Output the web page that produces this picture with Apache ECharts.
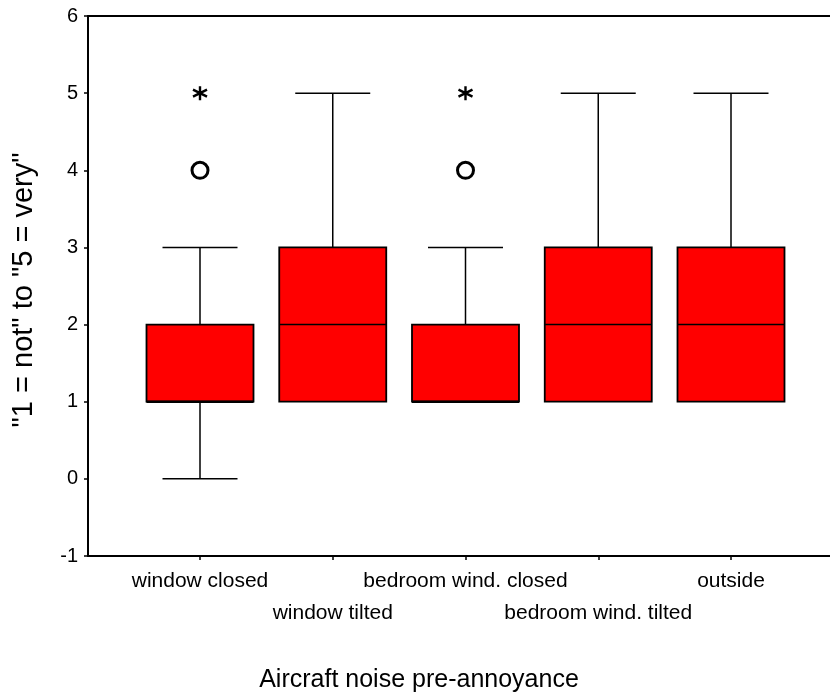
<!DOCTYPE html>
<html>
<head>
<meta charset="utf-8">
<script src="https://cdn.jsdelivr.net/npm/echarts@6/dist/echarts.min.js"></script>
<style>
  html, body { margin: 0; padding: 0; background: #fff; }
  #chart { width: 830px; height: 693px; }
</style>
</head>
<body>
<div id="chart"></div>
<script>
// ---- data ----
const categories = ['window closed', 'window tilted', 'bedroom wind. closed', 'bedroom wind. tilted', 'outside'];
const whiskerLow  = [0, 1, 1, 1, 1];
const q1          = [1, 1, 1, 1, 1];
const median      = [1, 2, 1, 2, 2];
const q3          = [2, 3, 2, 3, 3];
const whiskerHigh = [3, 5, 3, 5, 5];
const outlierPoints = [[1, 4], [3, 4]];   // [category position, value] circles
const extremePoints = [[1, 5], [3, 5]];   // asterisks
const yTitle = '"1 = not" to "5 = very"';
const xTitle = 'Aircraft noise pre-annoyance';

// ---- layout helpers ----
const FONT = 'Liberation Sans, Arial, sans-serif';
const gridLeft = 88, chartW = 830;
const unitPx = 132.75;             // px per category step
const firstCenterPx = 200;
const xMin = 1 - (firstCenterPx - gridLeft) / unitPx;
const xMax = xMin + (chartW - gridLeft) / unitPx;
const catPos = categories.map((c, i) => i + 1);

const boxData = categories.map((c, i) => [catPos[i], whiskerLow[i], q1[i], median[i], q3[i], whiskerHigh[i]]);

const chart = echarts.init(document.getElementById('chart'), null, { renderer: 'canvas' });

const option = {
  backgroundColor: '#ffffff',
  animation: false,
  title: {
    text: xTitle,
    left: 419,
    top: 668,
    padding: 0,
    textAlign: 'center',
    textStyle: { fontFamily: FONT, fontSize: 25, fontWeight: 'normal', color: '#000' }
  },
  grid: {
    left: gridLeft, right: 0, top: 16, bottom: 137, show: false
  },
  xAxis: [{
    type: 'value',
    min: xMin, max: xMax,
    splitLine: { show: false },
    axisLine: { show: true, onZero: false, lineStyle: { color: '#000', width: 2 } },
    axisTick: { show: true, length: 4, lineStyle: { color: '#000', width: 1.5 }, customValues: catPos },
    axisLabel: {
      show: true,
      customValues: catPos,
      margin: 9,
      fontFamily: FONT, fontSize: 21, color: '#000', lineHeight: 32,
      formatter: function (v) {
        const i = Math.round(v) - 1;
        if (i < 0 || i >= categories.length) return '';
        return (i % 2 === 1 ? '\n' : '') + categories[i];
      }
    }
  }, {
    type: 'value',
    position: 'top',
    min: xMin, max: xMax,
    splitLine: { show: false },
    axisLine: { show: true, onZero: false, lineStyle: { color: '#000', width: 2 } },
    axisTick: { show: false },
    axisLabel: { show: false }
  }],
  yAxis: {
    type: 'value',
    min: -1, max: 6, interval: 1,
    splitLine: { show: false },
    axisLine: { show: true, onZero: false, lineStyle: { color: '#000', width: 2 } },
    axisTick: { show: true, length: 4, lineStyle: { color: '#000', width: 1.5 } },
    axisLabel: { margin: 10, fontFamily: FONT, fontSize: 20, color: '#000' },
    name: yTitle,
    nameLocation: 'middle',
    nameRotate: 90,
    nameGap: 50,
    nameTextStyle: { fontFamily: FONT, fontSize: 29, color: '#000', padding: [0, 8, 0, 0] }
  },
  series: [
    {
      type: 'custom',
      data: boxData,
      encode: { x: 0, y: [1, 2, 3, 4, 5] },
      renderItem: function (params, api) {
        const x = api.value(0);
        const pLow = api.coord([x, api.value(1)]);
        const pQ1 = api.coord([x, api.value(2)]);
        const pMed = api.coord([x, api.value(3)]);
        const pQ3 = api.coord([x, api.value(4)]);
        const pHigh = api.coord([x, api.value(5)]);
        const cx = pQ1[0];
        const half = 53.5, capHalf = 37.5;
        const line = { stroke: '#000', lineWidth: 1.5 };
        const children = [];
        if (pHigh[1] < pQ3[1]) {
          children.push({ type: 'line', shape: { x1: cx, y1: pQ3[1], x2: cx, y2: pHigh[1] }, style: line });
        }
        children.push({ type: 'line', shape: { x1: cx - capHalf, y1: pHigh[1], x2: cx + capHalf, y2: pHigh[1] }, style: line });
        if (pLow[1] > pQ1[1]) {
          children.push({ type: 'line', shape: { x1: cx, y1: pQ1[1], x2: cx, y2: pLow[1] }, style: line });
          children.push({ type: 'line', shape: { x1: cx - capHalf, y1: pLow[1], x2: cx + capHalf, y2: pLow[1] }, style: line });
        }
        children.push({
          type: 'rect',
          shape: { x: cx - half, y: pQ3[1], width: half * 2, height: pQ1[1] - pQ3[1] },
          style: { fill: '#ff0000', stroke: '#000', lineWidth: 1.8 }
        });
        const i = params.dataIndex;
        children.push({ type: 'line', shape: { x1: cx - half, y1: pMed[1], x2: cx + half, y2: pMed[1] }, style: { stroke: '#000', lineWidth: median[i] === q1[i] ? 2.5 : 1.5 } });
        return { type: 'group', children: children };
      },
      z: 2
    },
    {
      type: 'scatter',
      data: outlierPoints,
      symbol: 'circle',
      symbolSize: 16,
      itemStyle: { color: '#fff', borderColor: '#000', borderWidth: 3, opacity: 1 },
      z: 3
    },
    {
      type: 'scatter',
      data: extremePoints,
      symbol: 'path://M0,-10L0,10M-8.66,-5L8.66,5M-8.66,5L8.66,-5',
      symbolSize: 14,
      itemStyle: { color: 'none', borderColor: '#000', borderWidth: 2.4, opacity: 1 },
      z: 3
    }
  ]
};

chart.setOption(option);
</script>
</body>
</html>
